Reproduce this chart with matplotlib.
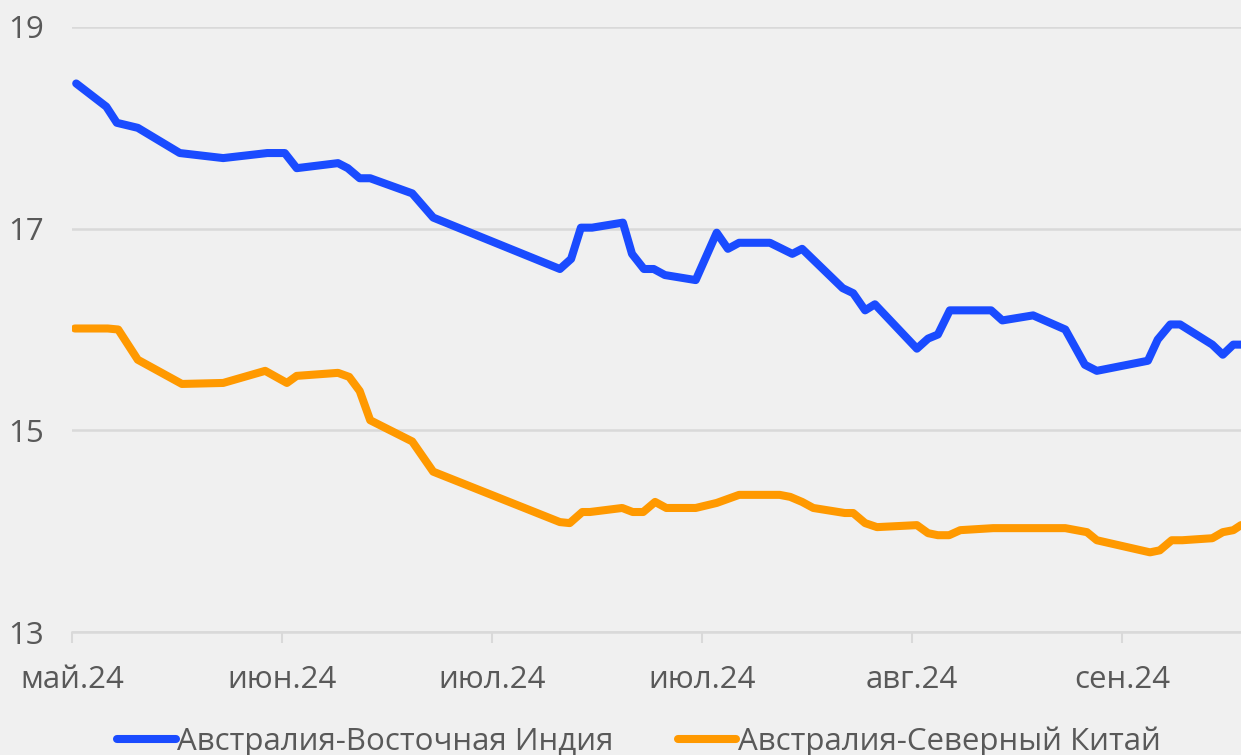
import matplotlib
matplotlib.use("Agg")
import matplotlib.pyplot as plt

# days since start of period (position on the category axis)
x_india = [0.6, 4.9, 6.4, 9.4, 15.4, 21.6, 27.9, 30.4, 32.1, 38.0, 39.4, 41.1, 42.6, 48.6,
           51.6, 69.7, 71.3, 72.7, 74.3, 78.7, 80.0, 81.7, 83.1, 84.7, 89.1, 92.1, 93.7,
           95.3, 99.7, 102.9, 104.3, 110.1, 111.6, 113.3, 114.7, 120.7, 122.3, 123.7,
           125.4, 131.3, 132.9, 137.3, 141.9, 144.7, 146.4, 153.7, 155.1, 156.9, 158.3,
           162.9, 164.4, 165.9, 167.0]
india = [18.44, 18.21, 18.05, 18.00, 17.75, 17.70, 17.75, 17.75, 17.60, 17.65, 17.60,
         17.50, 17.50, 17.35, 17.11, 16.60, 16.70, 17.01, 17.01, 17.06, 16.75, 16.60,
         16.60, 16.54, 16.49, 16.96, 16.80, 16.86, 16.86, 16.75, 16.80, 16.41, 16.36,
         16.19, 16.25, 15.81, 15.91, 15.95, 16.19, 16.19, 16.09, 16.14, 16.00, 15.65,
         15.59, 15.69, 15.90, 16.05, 16.05, 15.85, 15.75, 15.85, 15.85]

x_china = [0.4, 5.1, 6.6, 9.4, 15.7, 21.6, 27.6, 30.7, 32.1, 38.0, 39.6, 41.1, 42.6, 48.6,
           51.6, 69.7, 71.1, 72.9, 74.0, 78.6, 80.1, 81.6, 83.3, 84.9, 89.1, 92.1, 95.3,
           101.1, 102.6, 104.3, 105.9, 110.4, 111.6, 113.3, 115.0, 120.7, 122.3, 123.7,
           125.3, 126.9, 131.6, 141.9, 145.0, 146.4, 154.0, 155.4, 157.1, 158.6, 162.9,
           164.4, 165.9, 167.0]
china = [16.01, 16.01, 16.00, 15.70, 15.46, 15.47, 15.59, 15.47, 15.54, 15.57, 15.53,
         15.39, 15.10, 14.89, 14.59, 14.09, 14.08, 14.19, 14.19, 14.23, 14.19, 14.19,
         14.29, 14.23, 14.23, 14.28, 14.36, 14.36, 14.34, 14.29, 14.23, 14.18, 14.18,
         14.08, 14.04, 14.06, 13.98, 13.96, 13.96, 14.01, 14.03, 14.03, 13.99, 13.91,
         13.79, 13.81, 13.91, 13.91, 13.93, 13.99, 14.01, 14.06]

tick_pos = [0, 30, 60, 90, 120, 150]
tick_labels = ["май.24", "июн.24", "июл.24", "июл.24", "авг.24", "сен.24"]
y_ticks = [13, 15, 17, 19]

label_india = "Австралия-Восточная Индия"
label_china = "Австралия-Северный Китай"

plt.rcParams['font.family'] = ['Open Sans', 'DejaVu Sans']

bg = "#f0f0f0"
txt = "#595959"
grid = "#d9d9d9"
fs = 22.5

fig = plt.figure(figsize=(12.41, 7.55), dpi=100, facecolor=bg)
ax = fig.add_axes([72 / 1241, 1 - 632 / 755, 1 - 72 / 1241, (632 - 27) / 755])
ax.set_facecolor(bg)

ax.plot(x_india, india, color="#1a4bff", lw=5.8, solid_capstyle="round",
        solid_joinstyle="round", label=label_india)
ax.plot(x_china, china, color="#ff9900", lw=5.8, solid_capstyle="round",
        solid_joinstyle="round", label=label_china)

ax.set_xlim(0, 167)
ax.set_ylim(13, 19)
ax.set_yticks(y_ticks)
ax.set_yticklabels([str(v) for v in y_ticks])
ax.set_xticks(tick_pos)
ax.set_xticklabels(tick_labels)

ax.grid(axis="y", color=grid, lw=1.8)
ax.set_axisbelow(True)
for s in ["top", "right", "left"]:
    ax.spines[s].set_visible(False)
ax.spines["bottom"].set_color(grid)
ax.spines["bottom"].set_linewidth(1.8)

ax.tick_params(axis="y", length=0, pad=20.5, labelsize=fs, labelcolor=txt)
ax.tick_params(axis="x", length=8, width=1.5, color=grid, pad=16, labelsize=fs,
               labelcolor=txt)

fig.legend(loc="center", bbox_to_anchor=(0.515, 0.018), ncol=2, frameon=False,
           fontsize=fs, labelcolor=txt, handlelength=1.86, handletextpad=0.06,
           columnspacing=2.05, borderaxespad=0)

fig.savefig("out.png", dpi=100, facecolor=bg)
